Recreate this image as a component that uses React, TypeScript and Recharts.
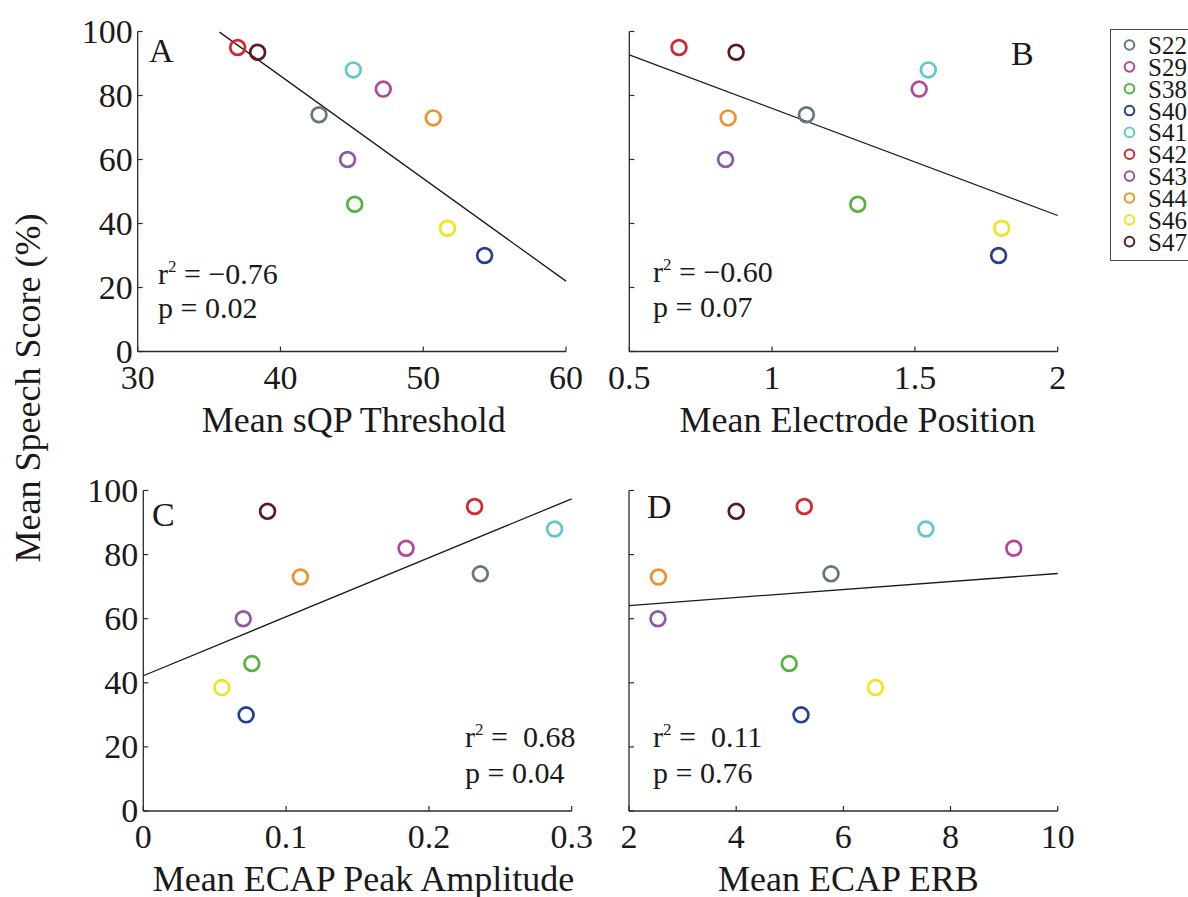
import React from 'react';
import { ScatterChart, Scatter, XAxis, YAxis, ReferenceLine } from 'recharts';

// subjects, in legend order
const subjects = ['S22', 'S29', 'S38', 'S40', 'S41', 'S42', 'S43', 'S44', 'S46', 'S47'];
const subjectColors = ['#66767f', '#b0479e', '#55b23e', '#253f95', '#62c6d0', '#d7262b', '#8d58a4', '#ef9130', '#f2e31c', '#5c1a1c'];

// mean speech score (%) per subject
const speechScore = [74, 82, 46, 30, 88, 95, 60, 73, 38.5, 93.5];

// predictors per subject
const sqpThreshold = [42.7, 47.2, 45.2, 54.3, 45.1, 37.0, 44.7, 50.7, 51.7, 38.4];
const electrodePosition = [1.12, 1.515, 1.3, 1.793, 1.547, 0.674, 0.837, 0.846, 1.804, 0.874];
const ecapAmplitude = [0.236, 0.184, 0.076, 0.072, 0.288, 0.232, 0.07, 0.11, 0.055, 0.087];
const ecapErb = [5.77, 9.18, 4.99, 5.21, 7.54, 5.27, 2.54, 2.55, 6.6, 4.0];

// regression line end points [x, y]
const fitSqp = [[35.73, 99.8], [60, 22.0]];
const fitElectrode = [[0.5, 92.7], [2, 42.5]];
const fitAmplitude = [[0, 42.2], [0.3, 97.4]];
const fitErb = [[2, 64.1], [10, 74.1]];

// axis ticks
const scoreTicks = [0, 20, 40, 60, 80, 100];
const sqpTicks = [30, 40, 50, 60];
const electrodeTicks = [0.5, 1, 1.5, 2];
const amplitudeTicks = [0, 0.1, 0.2, 0.3];
const erbTicks = [2, 4, 6, 8, 10];

// per-panel annotations
const panelLetters = ['A', 'B', 'C', 'D'];
const rSquared = ['\u22120.76', '\u22120.60', ' 0.68', ' 0.11'];
const pValues = ['0.02', '0.07', '0.04', '0.76'];

const FONT = '"Liberation Serif", "Times New Roman", serif';
const AXIS = '#2b2b2b';
const Y_AXIS_W = 20;
const X_AXIS_H = 30;

type Pt = { x: number; y: number; color: string; name: string };

const pointsFor = (xs: number[]): Pt[] =>
  xs.map((x, i) => ({ x, y: speechScore[i], color: subjectColors[i], name: subjects[i] }));

const Ring = (props: any) => {
  const { cx, cy, payload } = props;
  if (cx == null || cy == null) return null;
  return <circle cx={cx} cy={cy} r={7.4} fill="none" stroke={payload.color} strokeWidth={2.7} />;
};

// inward tick marks, MATLAB style
const BottomTick = (props: any) => {
  const { x, y, payload } = props;
  return (
    <g>
      <line x1={x} y1={y} x2={x} y2={y - 5} stroke={AXIS} strokeWidth={1.2} />
      <text x={x} y={y + 37} textAnchor="middle" fontSize={34} fill="#1a1a1a">
        {String(payload.value)}
      </text>
    </g>
  );
};

const LeftTick = (props: any) => {
  const { x, y, payload, showLabel } = props;
  return (
    <g>
      <line x1={x} y1={y} x2={x + 5} y2={y} stroke={AXIS} strokeWidth={1.2} />
      {showLabel && (
        <text x={x - 5} y={y + 11} textAnchor="end" fontSize={34} fill="#1a1a1a">
          {String(payload.value)}
        </text>
      )}
    </g>
  );
};

const AxisTitle = (props: any) => {
  const { viewBox, text, dx } = props;
  if (!viewBox) return null;
  return (
    <text x={viewBox.x + viewBox.width / 2 + dx} y={viewBox.y + 80} textAnchor="middle" fontSize={36} fill="#1a1a1a">
      {text}
    </text>
  );
};

type Box = { left: number; top: number; right: number; bottom: number };
type Region = { left: number; top: number; width: number; height: number };

function Panel(props: {
  region: Region;
  plot: Box;
  xs: number[];
  xDomain: [number, number];
  xTicks: number[];
  fit: number[][];
  yLabels: boolean;
  title: string;
  titleDx: number;
}) {
  const { region, plot, xs, xDomain, xTicks, fit, yLabels, title, titleDx } = props;
  const margin = {
    left: plot.left - region.left - Y_AXIS_W,
    top: plot.top - region.top,
    right: region.left + region.width - plot.right,
    bottom: region.top + region.height - plot.bottom - X_AXIS_H,
  };
  return (
    <div style={{ position: 'absolute', left: region.left, top: region.top }}>
      <ScatterChart width={region.width} height={region.height} margin={margin}>
        <XAxis
          type="number"
          dataKey="x"
          domain={xDomain}
          ticks={xTicks}
          interval={0}
          allowDataOverflow
          height={X_AXIS_H}
          tickLine={false}
          tickSize={0}
          tickMargin={0}
          tick={<BottomTick />}
          axisLine={{ stroke: AXIS, strokeWidth: 1.3 }}
          label={<AxisTitle text={title} dx={titleDx} />}
        />
        <YAxis
          type="number"
          dataKey="y"
          domain={[0, 100]}
          ticks={scoreTicks}
          interval={0}
          allowDataOverflow
          width={Y_AXIS_W}
          tickLine={false}
          tickSize={0}
          tickMargin={0}
          tick={<LeftTick showLabel={yLabels} />}
          axisLine={{ stroke: AXIS, strokeWidth: 1.3 }}
        />
        <ReferenceLine
          segment={[
            { x: fit[0][0], y: fit[0][1] },
            { x: fit[1][0], y: fit[1][1] },
          ]}
          stroke="#1a1a1a"
          strokeWidth={1.3}
          ifOverflow="visible"
        />
        <Scatter data={pointsFor(xs)} shape={Ring} isAnimationActive={false} />
      </ScatterChart>
    </div>
  );
}

// where the letter and the r / p lines sit in each panel
const letterPos = [
  [149, 62],
  [1011, 65],
  [152, 526],
  [647, 518],
];
const statPos = [
  [158, 284, 318],
  [653, 282, 317],
  [465, 747, 783],
  [653, 747, 783],
];

function Annotations() {
  return (
    <svg width={1188} height={897} style={{ position: 'absolute', left: 0, top: 0, pointerEvents: 'none' }}>
      <text
        x={40}
        y={388}
        transform="rotate(-90, 40, 388)"
        textAnchor="middle"
        fontSize={36}
        fill="#1a1a1a"
      >
        Mean Speech Score (%)
      </text>
      {panelLetters.map((l, i) => (
        <text key={l} x={letterPos[i][0]} y={letterPos[i][1]} fontSize={34} fill="#1a1a1a">
          {l}
        </text>
      ))}
      {rSquared.map((r, i) => (
        <g key={i} style={{ whiteSpace: 'pre' }}>
          <text x={statPos[i][0]} y={statPos[i][1]} fontSize={30} fill="#1a1a1a" style={{ whiteSpace: 'pre' }}>
            r
            <tspan fontSize={17} dy={-12}>2</tspan>
            <tspan dy={12}>{' = ' + r}</tspan>
          </text>
          <text x={statPos[i][0]} y={statPos[i][2]} fontSize={30} fill="#1a1a1a">
            {'p = ' + pValues[i]}
          </text>
        </g>
      ))}
    </svg>
  );
}

function SubjectLegend() {
  return (
    <div
      style={{
        position: 'absolute',
        left: 1110,
        top: 29,
        width: 100,
        height: 230,
        border: '1.5px solid #4a4a4a',
        background: '#fff',
      }}
    >
      <svg width={100} height={230} style={{ position: 'absolute', left: -1.5, top: -1.5 }}>
        {subjects.map((s, i) => {
          const cy = 16 + i * 21.85;
          return (
            <g key={s}>
              <circle cx={19.5} cy={cy} r={4.8} fill="none" stroke={subjectColors[i]} strokeWidth={2} />
              <text x={38} y={cy + 9} fontSize={25} fill="#1a1a1a">
                {s}
              </text>
            </g>
          );
        })}
      </svg>
    </div>
  );
}

export default function App() {
  return (
    <div
      style={{
        position: 'fixed',
        left: 0,
        top: 0,
        width: 1188,
        height: 897,
        overflow: 'hidden',
        background: '#fff',
        fontFamily: FONT,
      }}
    >
      <Panel
        region={{ left: 0, top: 0, width: 594, height: 450 }}
        plot={{ left: 137.7, top: 31.5, right: 566, bottom: 351.5 }}
        xs={sqpThreshold}
        xDomain={[30, 60]}
        xTicks={sqpTicks}
        fit={fitSqp}
        yLabels
        title="Mean sQP Threshold"
        titleDx={2}
      />
      <Panel
        region={{ left: 594, top: 0, width: 516, height: 450 }}
        plot={{ left: 629.3, top: 31.5, right: 1057.7, bottom: 351.5 }}
        xs={electrodePosition}
        xDomain={[0.5, 2]}
        xTicks={electrodeTicks}
        fit={fitElectrode}
        yLabels={false}
        title="Mean Electrode Position"
        titleDx={14}
      />
      <Panel
        region={{ left: 0, top: 450, width: 594, height: 447 }}
        plot={{ left: 143.3, top: 490.5, right: 571.7, bottom: 811 }}
        xs={ecapAmplitude}
        xDomain={[0, 0.3]}
        xTicks={amplitudeTicks}
        fit={fitAmplitude}
        yLabels
        title="Mean ECAP Peak Amplitude"
        titleDx={6}
      />
      <Panel
        region={{ left: 594, top: 450, width: 516, height: 447 }}
        plot={{ left: 629, top: 490.5, right: 1057.7, bottom: 811 }}
        xs={ecapErb}
        xDomain={[2, 10]}
        xTicks={erbTicks}
        fit={fitErb}
        yLabels={false}
        title="Mean ECAP ERB"
        titleDx={5}
      />
      <Annotations />
      <SubjectLegend />
    </div>
  );
}
